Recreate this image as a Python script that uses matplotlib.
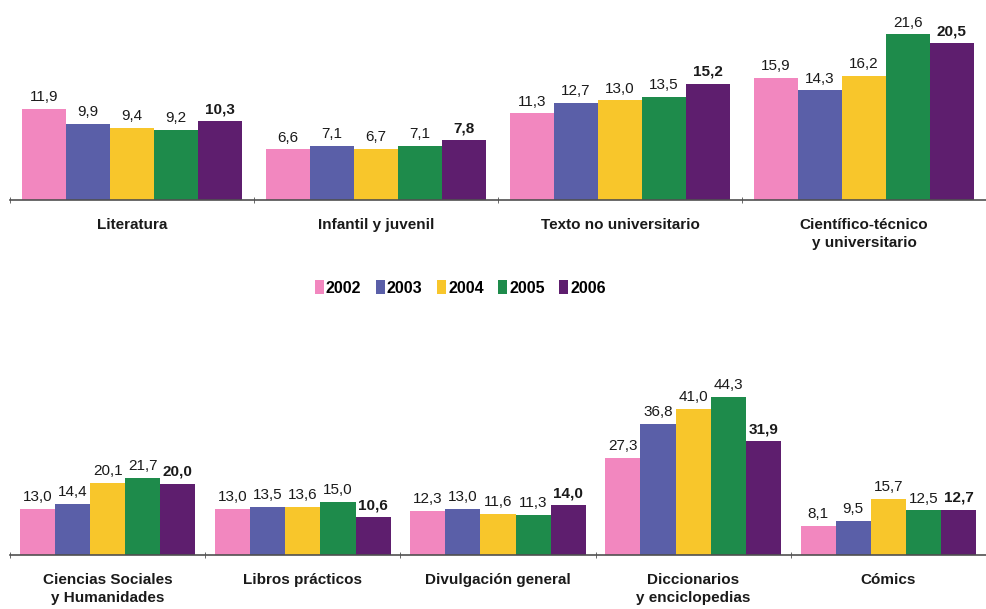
import matplotlib
matplotlib.use("Agg")
import matplotlib.pyplot as plt
import numpy as np

plt.rcParams['font.family'] = ['Liberation Sans', 'DejaVu Sans']

years = ['2002', '2003', '2004', '2005', '2006']
colors = ['#F287BF', '#5A5FA8', '#F8C62B', '#1E8B4B', '#5E1E6E']

top_cats = ['Literatura', 'Infantil y juvenil', 'Texto no universitario',
            'Científico-técnico\ny universitario']
top_vals = {
    '2002': [11.9, 6.6, 11.3, 15.9],
    '2003': [9.9, 7.1, 12.7, 14.3],
    '2004': [9.4, 6.7, 13.0, 16.2],
    '2005': [9.2, 7.1, 13.5, 21.6],
    '2006': [10.3, 7.8, 15.2, 20.5],
}

bot_cats = ['Ciencias Sociales\ny Humanidades', 'Libros prácticos', 'Divulgación general',
            'Diccionarios\ny enciclopedias', 'Cómics']
bot_vals = {
    '2002': [13.0, 13.0, 12.3, 27.3, 8.1],
    '2003': [14.4, 13.5, 13.0, 36.8, 9.5],
    '2004': [20.1, 13.6, 11.6, 41.0, 15.7],
    '2005': [21.7, 15.0, 11.3, 44.3, 12.5],
    '2006': [20.0, 10.6, 14.0, 31.9, 12.7],
}

W, H = 986, 609
fig = plt.figure(figsize=(W / 100, H / 100), dpi=100)

def fmt(v):
    return f"{v:.1f}".replace('.', ',')

def draw(ax, cats, vals, ymax, bw):
    n = len(cats)
    x = np.arange(n)
    nb = len(years)
    handles = []
    for i, y in enumerate(years):
        offs = (i - (nb - 1) / 2) * bw
        b = ax.bar(x + offs, vals[y], width=bw, color=colors[i], edgecolor='none',
                   label=y, zorder=2)
        handles.append(b)
        for xi, v in zip(x + offs, vals[y]):
            ax.annotate(fmt(v), (xi, v), xytext=(0, 3.5), textcoords='offset points',
                        ha='center', va='bottom', fontsize=11, color='#1a1a1a',
                        fontweight='bold' if y == '2006' else 'normal')
    ax.set_xlim(-0.5, n - 0.5)
    ax.set_ylim(0, ymax)
    for s in ['top', 'right', 'left']:
        ax.spines[s].set_visible(False)
    ax.spines['bottom'].set_color('#505050')
    ax.spines['bottom'].set_linewidth(1.2)
    ax.set_yticks([])
    ax.set_xticks(x)
    ax.set_xticklabels(cats, fontsize=11, fontweight='bold', color='#1a1a1a',
                       linespacing=1.4)
    ax.tick_params(axis='x', which='major', length=0, pad=13)
    ax.set_xticks(np.arange(n) - 0.5, minor=True)
    ax.tick_params(axis='x', which='minor', length=4, direction='inout', color='#505050')
    ax.set_facecolor('none')
    return handles

ax1 = fig.add_axes([10 / W, (H - 200) / H, 976 / W, 200 / H])
handles = draw(ax1, top_cats, top_vals, 26.1, 0.18)

ax2 = fig.add_axes([10 / W, (H - 555) / H, 976 / W, 180 / H])
draw(ax2, bot_cats, bot_vals, 50.5, 0.18)

leg = fig.legend(handles, years, loc='center', bbox_to_anchor=(0.467, 1 - 288 / H),
                 ncol=5, frameon=False, handlelength=0.55, handleheight=0.9,
                 handletextpad=0.15, columnspacing=0.9,
                 prop={'weight': 'bold', 'size': 11.5})

fig.savefig('out.png', dpi=100, facecolor='white')
